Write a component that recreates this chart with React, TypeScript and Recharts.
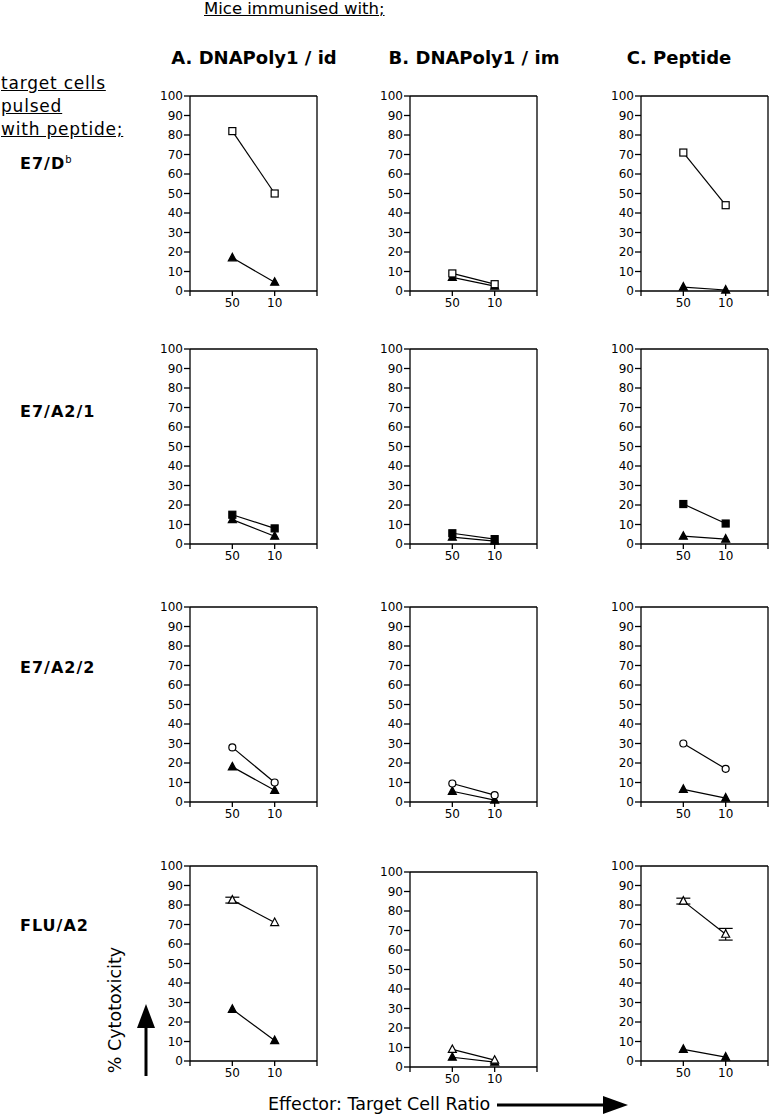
import { LineChart, Line, XAxis, YAxis, ReferenceLine, ErrorBar } from "recharts";

const ratios = ["50", "10"];
const yTicks = [0, 10, 20, 30, 40, 50, 60, 70, 80, 90, 100];
const columnTitles = ["A. DNAPoly1 / id", "B. DNAPoly1 / im", "C. Peptide"];
const rowLabels = ["E7/D", "E7/A2/1", "E7/A2/2", "FLU/A2"];
const rowSup = ["b", "", "", ""];

// values per column (A, B, C), at ratio 50 then 10
const e7dbPeptide = [[82, 50], [9, 3.5], [71, 44]];
const e7dbControl = [[17, 4.5], [7, 2.5], [2, 0.5]];
const e7a21Peptide = [[15, 8], [5.5, 2.5], [20.5, 10.5]];
const e7a21Control = [[12.5, 4], [3.5, 1.5], [4, 2.5]];
const e7a22Peptide = [[28, 10], [9.5, 3.5], [30, 17]];
const e7a22Control = [[18, 6], [5.5, 1], [6.5, 2]];
const fluPeptide = [[82.5, 71], [9, 3.5], [82, 65]];
const fluControl = [[26.5, 10.5], [5, 2.5], [6, 2]];
const fluPeptideErr = [[1.5, 0], null, [1.5, 3]];

const FONT = "'DejaVu Sans', sans-serif";

type Shape = "openSquare" | "square" | "openCircle" | "openTriangle" | "triangle";

function Marker({ cx, cy, shape }: { cx?: number; cy?: number; shape: Shape }) {
  if (cx == null || cy == null) return null;
  const s = 3.5;
  if (shape === "openSquare" || shape === "square") {
    return (
      <rect
        x={cx - s}
        y={cy - s}
        width={s * 2}
        height={s * 2}
        fill={shape === "square" ? "#000" : "#fff"}
        stroke="#000"
        strokeWidth={1.2}
      />
    );
  }
  if (shape === "openCircle") {
    return <circle cx={cx} cy={cy} r={3.5} fill="#fff" stroke="#000" strokeWidth={1.2} />;
  }
  const pts = `${cx},${cy - 4.5} ${cx + 4},${cy + 3} ${cx - 4},${cy + 3}`;
  return (
    <polygon
      points={pts}
      fill={shape === "triangle" ? "#000" : "#fff"}
      stroke="#000"
      strokeWidth={1.2}
    />
  );
}

function Panel({
  left,
  top,
  peptide,
  control,
  shape,
  err,
}: {
  left: number;
  top: number;
  peptide: number[];
  control: number[];
  shape: Shape;
  err?: number[] | null;
}) {
  const data = ratios.map((r, i) => ({
    x: i + 1,
    ratio: r,
    peptide: peptide[i],
    control: control[i],
    err: err ? err[i] : 0,
  }));
  const tick = { fontSize: 12, fill: "#000", fontFamily: FONT };
  return (
    <div style={{ position: "absolute", left: left - 40, top: top - 10 }}>
      <LineChart width={177} height={230} data={data} margin={{ top: 10, right: 10, left: 0, bottom: 0 }}>
        <XAxis
          type="number"
          dataKey="x"
          domain={[0, 3]}
          ticks={[0, 1, 2, 3]}
          tickFormatter={(v) => ratios[v - 1] ?? ""}
          tick={tick}
          tickSize={5}
          tickMargin={2}
          height={25}
          stroke="#000"
          strokeWidth={1.3}
          tickLine={{ stroke: "#000", strokeWidth: 1.3 }}
        />
        <YAxis
          type="number"
          domain={[0, 100]}
          ticks={yTicks}
          interval={0}
          tick={tick}
          tickSize={6}
          tickMargin={1}
          width={40}
          stroke="#000"
          strokeWidth={1.3}
          tickLine={{ stroke: "#000", strokeWidth: 1.3 }}
        />
        <ReferenceLine y={100} stroke="#000" strokeWidth={1.3} />
        <ReferenceLine x={3} stroke="#000" strokeWidth={1.3} />
        <Line
          dataKey="control"
          stroke="#000"
          strokeWidth={1.2}
          isAnimationActive={false}
          dot={(p: any) => <Marker key={`c${p.index}`} cx={p.cx} cy={p.cy} shape="triangle" />}
        />
        <Line
          dataKey="peptide"
          stroke="#000"
          strokeWidth={1.2}
          isAnimationActive={false}
          dot={(p: any) => <Marker key={`p${p.index}`} cx={p.cx} cy={p.cy} shape={shape} />}
        >
          {err ? <ErrorBar dataKey="err" width={7} stroke="#000" strokeWidth={1.2} direction="y" /> : null}
        </Line>
      </LineChart>
    </div>
  );
}

const colLeft = [190, 410, 641];
const titleCenter = [254, 474, 679];
const rowTop = [96, 349, 607, 866];
const rowLabelY = [152, 404, 660, 918];

const rows: { peptide: number[][]; control: number[][]; shape: Shape; err?: (number[] | null)[] }[] = [
  { peptide: e7dbPeptide, control: e7dbControl, shape: "openSquare" },
  { peptide: e7a21Peptide, control: e7a21Control, shape: "square" },
  { peptide: e7a22Peptide, control: e7a22Control, shape: "openCircle" },
  { peptide: fluPeptide, control: fluControl, shape: "openTriangle", err: fluPeptideErr },
];

export default function App() {
  return (
    <div
      style={{
        position: "absolute",
        left: 0,
        top: 0,
        width: 773,
        height: 1116,
        background: "#fff",
        fontFamily: FONT,
        color: "#000",
        overflow: "hidden",
      }}
    >
      <div style={{ position: "absolute", left: 204, top: 0, fontSize: 16.5, lineHeight: "18px", textDecoration: "underline" }}>
        Mice immunised with;
      </div>
      {columnTitles.map((t, i) => (
        <div
          key={t}
          style={{
            position: "absolute",
            left: titleCenter[i] - 120,
            width: 240,
            top: 49,
            textAlign: "center",
            fontSize: 18,
            fontWeight: "bold",
            lineHeight: "18px",
            whiteSpace: "nowrap",
          }}
        >
          {t}
        </div>
      ))}
      <div style={{ position: "absolute", left: 1, top: 72, fontSize: 17, lineHeight: "23px", letterSpacing: 0.8, textDecoration: "underline" }}>
        <div>target cells</div>
        <div>pulsed</div>
        <div>with peptide;</div>
      </div>
      {rowLabels.map((l, i) => (
        <div
          key={l}
          style={{ position: "absolute", left: 20, top: rowLabelY[i], fontSize: 16, fontWeight: "bold", lineHeight: "16px", letterSpacing: 1 }}
        >
          {l}
          {rowSup[i] ? <sup style={{ fontSize: 10, fontWeight: "normal" }}>{rowSup[i]}</sup> : null}
        </div>
      ))}
      {rows.map((r, ri) =>
        colLeft.map((cl, ci) => (
          <Panel
            key={`${ri}-${ci}`}
            left={cl}
            top={rowTop[ri] + (ri === 3 && ci === 1 ? 6 : 0)}
            peptide={r.peptide[ci]}
            control={r.control[ci]}
            shape={r.shape}
            err={r.err ? r.err[ci] : null}
          />
        ))
      )}
      <div
        style={{
          position: "absolute",
          left: 115 - 70,
          top: 1010 - 10,
          width: 140,
          textAlign: "center",
          fontSize: 17.5,
          lineHeight: "20px",
          transform: "rotate(-90deg)",
          whiteSpace: "nowrap",
        }}
      >
        % Cytotoxicity
      </div>
      <svg style={{ position: "absolute", left: 0, top: 0 }} width={773} height={1116}>
        <line x1={146} y1={1076} x2={146} y2={1022} stroke="#000" strokeWidth={3} />
        <polygon points="146,1004 155,1028 137,1028" fill="#000" />
        <line x1={497} y1={1105} x2={606} y2={1105} stroke="#000" strokeWidth={3} />
        <polygon points="628,1105 603,1096 603,1114" fill="#000" />
      </svg>
      <div style={{ position: "absolute", left: 268, top: 1094, fontSize: 17.5, lineHeight: "20px", whiteSpace: "nowrap" }}>
        Effector: Target Cell Ratio
      </div>
    </div>
  );
}
